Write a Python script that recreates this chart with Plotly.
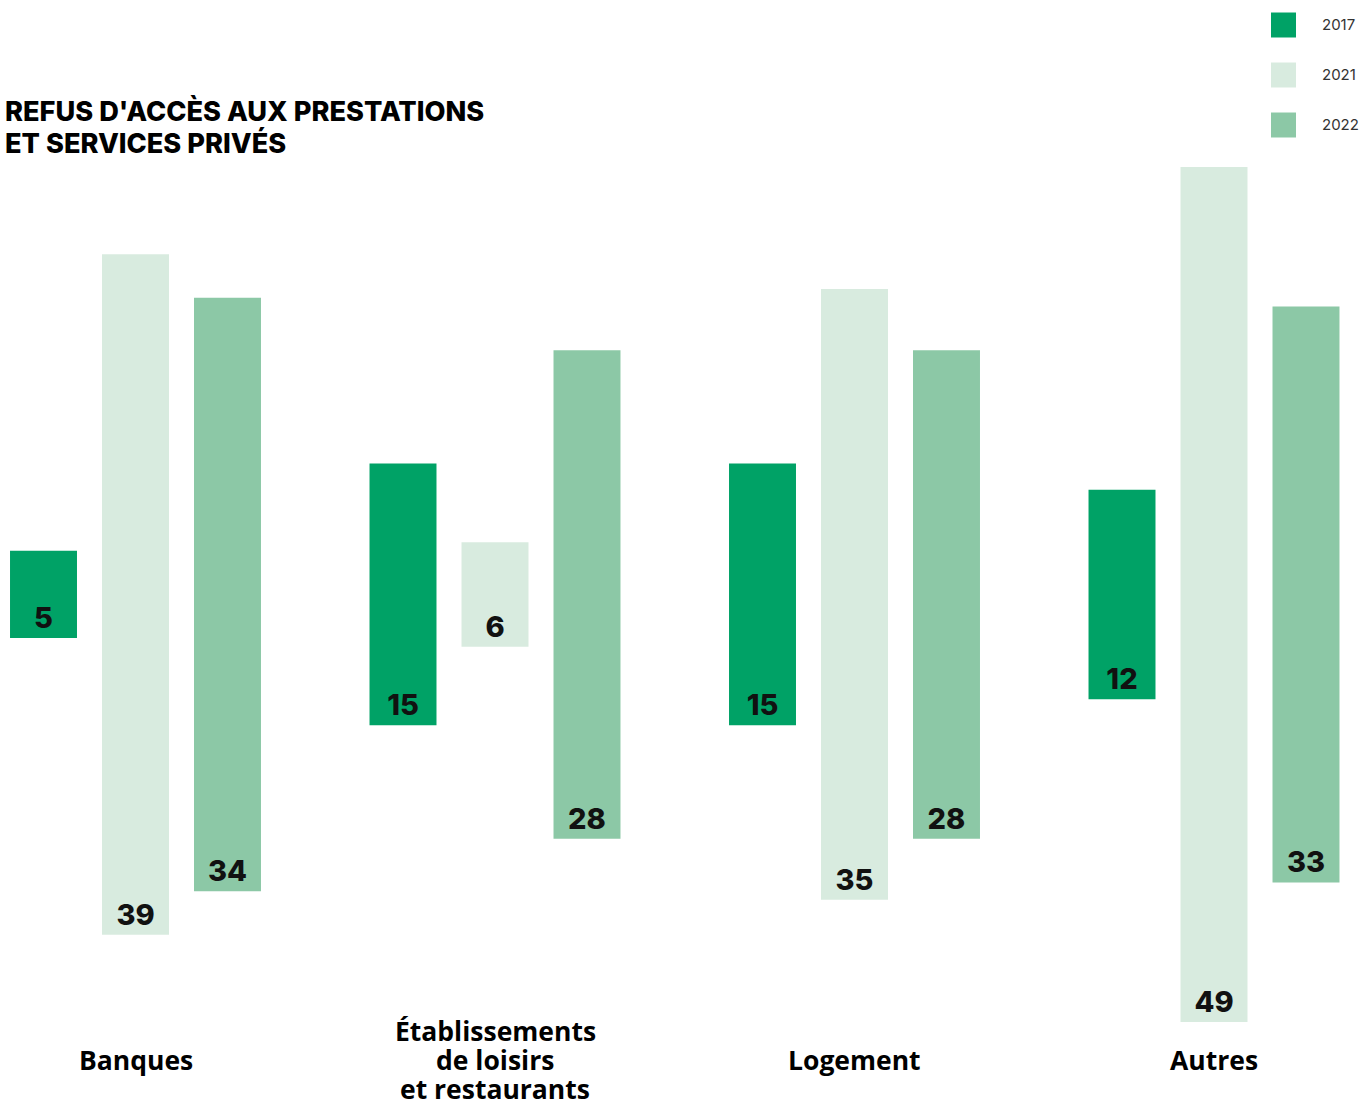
import plotly.graph_objects as go

# Data
categories = ["Banques", "Établissements<br>de loisirs<br>et restaurants", "Logement", "Autres"]
years = ["2017", "2021", "2022"]
values_2017 = [5, 15, 15, 12]
values_2021 = [39, 6, 35, 49]
values_2022 = [34, 28, 28, 33]
colors = ["#00A266", "#D8EBDF", "#8CC8A6"]

series = [values_2017, values_2021, values_2022]

W, H = 1371, 1102
fig = go.Figure()

# Bars are centred on zero: base at -v/2, height v
for name, vals, col in zip(years, series, colors):
    fig.add_trace(go.Bar(
        x=categories,
        y=vals,
        base=[-v / 2 for v in vals],
        name=name,
        marker=dict(color=col, line=dict(width=0)),
        text=[str(v) for v in vals],
        textposition="inside",
        insidetextanchor="start",
        textangle=0,
        insidetextfont=dict(family="Inter", size=29, color="#111111", weight=800),
        showlegend=False,
        hoverinfo="skip",
    ))

annotations = []

# Title (two lines)
title_lines = ["REFUS D'ACCÈS AUX PRESTATIONS", "ET SERVICES PRIVÉS"]
for i, line in enumerate(title_lines):
    annotations.append(dict(
        text=line, xref="paper", yref="paper",
        x=3 / W, y=1 - (111 + 32 * i) / H,
        xanchor="left", yanchor="middle", showarrow=False,
        font=dict(family="Inter", size=27.2, color="#000000", weight=800),
    ))

# Category labels, one annotation per line for tight leading
for cat in categories:
    lines = cat.split("<br>")
    n = len(lines)
    for i, line in enumerate(lines):
        annotations.append(dict(
            text=line, xref="x", yref="paper",
            x=cat, y=1 - 1060 / H,
            yshift=-(i - (n - 1) / 2) * 29,
            xanchor="center", yanchor="middle", showarrow=False,
            font=dict(family="Open Sans", size=26.5, color="#000000", weight=700),
        ))

# Legend drawn as swatches + labels
shapes = []
for i, (name, col) in enumerate(zip(years, colors)):
    cy = 25 + 50 * i
    shapes.append(dict(
        type="rect", xref="paper", yref="paper",
        x0=1271 / W, x1=1296 / W, y0=1 - (cy + 12.5) / H, y1=1 - (cy - 12.5) / H,
        fillcolor=col, line=dict(width=0),
    ))
    annotations.append(dict(
        text=name, xref="paper", yref="paper",
        x=1320 / W, y=1 - cy / H,
        xanchor="left", yanchor="middle", showarrow=False,
        font=dict(family="Inter", size=15, color="#333333"),
    ))

px_per_unit = 17.45
center_px = 594.5
group_px = 359.5
first_center_px = 135.5

fig.update_layout(
    width=W, height=H, autosize=False,
    margin=dict(l=0, r=0, t=0, b=0),
    paper_bgcolor="white", plot_bgcolor="white",
    barmode="group",
    bargap=0.2323,
    bargroupgap=0.272,
    xaxis=dict(
        visible=False,
        range=[-first_center_px / group_px, (W - first_center_px) / group_px],
    ),
    yaxis=dict(
        visible=False,
        range=[-(H - center_px) / px_per_unit, center_px / px_per_unit],
    ),
    uniformtext=dict(mode=False),
    annotations=annotations,
    shapes=shapes,
)

fig.write_html("out.html")
